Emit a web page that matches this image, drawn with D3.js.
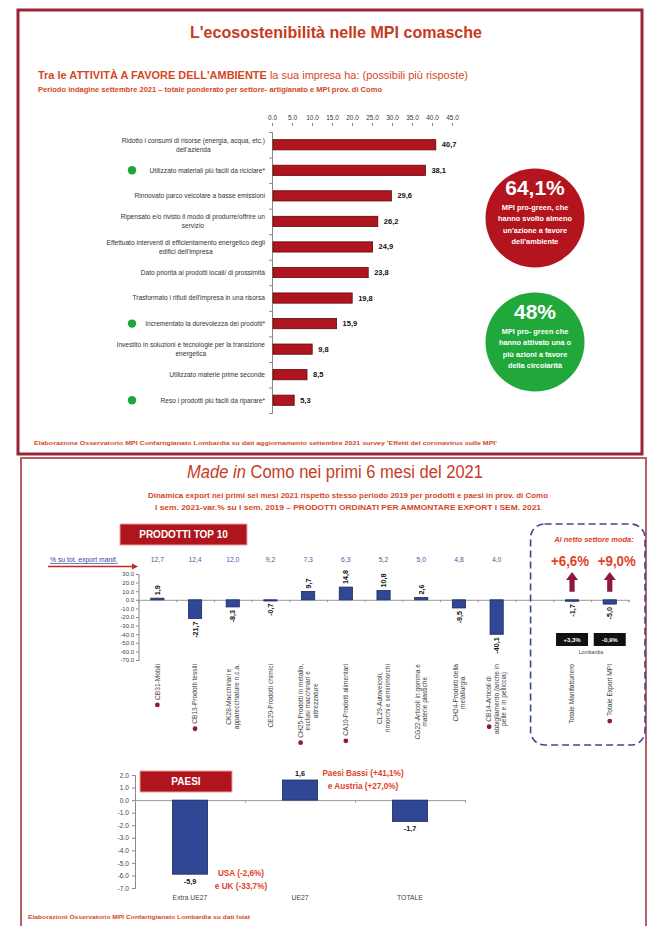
<!DOCTYPE html>
<html>
<head>
<meta charset="utf-8">
<script src="https://cdn.jsdelivr.net/npm/d3@7"></script>
<style>
  body { margin: 0; background: #fff; }
  svg { display: block; }
</style>
</head>
<body>
<div id="chart"></div>
<script>
const FONT = "'Liberation Sans Narrow','Arial Narrow','Liberation Sans',Arial,sans-serif";

// ---- pannello 1: attività a favore dell'ambiente
const ecoLabels = [
  ["Ridotto i consumi di risorse (energia, acqua, etc.)", "dell'azienda"],
  ["Utilizzato materiali più facili da riciclare*"],
  ["Rinnovato parco veicolare a basse emissioni"],
  ["Ripensato e/o rivisto il modo di produrre/offrire un", "servizio"],
  ["Effettuato interventi di efficientamento energetico degli", "edifici dell'impresa"],
  ["Dato priorità ai prodotti locali/ di prossimità"],
  ["Trasformato i rifiuti dell'impresa in una risorsa"],
  ["Incrementato la durevolezza dei prodotti*"],
  ["Investito in soluzioni e tecnologie per la transizione", "energetica"],
  ["Utilizzato materie prime seconde"],
  ["Reso i prodotti più facili da riparare*"]
];
const ecoValues = [40.7, 38.1, 29.6, 26.2, 24.9, 23.8, 19.8, 15.9, 9.8, 8.5, 5.3];
const ecoCircular = [false, true, false, false, false, false, false, true, false, false, true];
const ecoTicks = [0, 5, 10, 15, 20, 25, 30, 35, 40, 45];

// ---- pannello 2: export prodotti top 10
const prodLabels = [
  ["CB31-Mobili"],
  ["CB13-Prodotti tessili"],
  ["CK28-Macchinari e", "apparecchiature n.c.a."],
  ["CE20-Prodotti chimici"],
  ["CH25-Prodotti in metallo,", "esclusi macchinari e", "attrezzature"],
  ["CA10-Prodotti alimentari"],
  ["CL29-Autoveicoli,", "rimorchi e semirimorchi"],
  ["CG22-Articoli in gomma e", "materie plastiche"],
  ["CH24-Prodotti della", "metallurgia"],
  ["CB14-Articoli di", "abbigliamento (anche in", "pelle e in pelliccia)"]
];
const prodValues = [1.9, -21.7, -8.3, -0.7, 9.7, 14.8, 10.8, 2.6, -9.5, -40.1];
const prodShare = ["12,7", "12,4", "12,0", "9,2", "7,3", "6,3", "5,2", "5,0", "4,8", "4,0"];
const prodDot = [true, true, false, false, true, true, false, false, false, true];
const prodTicks = [30, 20, 10, 0, -10, -20, -30, -40, -50, -60, -70];

const totLabels = [["Totale Manifatturiero"], ["Totale Export MPI"]];
const totValues = [-1.7, -5.0];
const totDot = [false, true];
const totNoModa = ["+6,6%", "+9,0%"];
const totLombardia = ["+3,3%", "-0,9%"];

// ---- pannello 2: paesi
const paesiLabels = ["Extra UE27", "UE27", "TOTALE"];
const paesiValues = [-5.9, 1.6, -1.7];
const paesiTicks = [2, 1, 0, -1, -2, -3, -4, -5, -6, -7];

// valori con virgola, assi con punto, segno meno semplice
const it = d3.formatLocale({decimal: ",", thousands: ".", grouping: [3], currency: ["€", ""], minus: "-"});
const en = d3.formatLocale({decimal: ".", thousands: ",", grouping: [3], currency: ["$", ""], minus: "-"});
const fmt = it.format(".1f");
const fmtAxis = en.format(".1f");

const W = 660, H = 926;
const svg = d3.select("#chart").append("svg")
    .attr("width", W).attr("height", H)
    .attr("viewBox", [0, 0, W, H])
    .style("font-family", FONT);

const RED = "#b0151d", ORANGE = "#d4481f", BLUE = "#2f4795", MAROON = "#8c1a3f";

// cornici
svg.append("rect").attr("x", 18).attr("y", 10).attr("width", 624).attr("height", 444)
    .attr("fill", "none").attr("stroke", "#962536").attr("stroke-width", 3);
svg.append("rect").attr("x", 21).attr("y", 458).attr("width", 625).attr("height", 480)
    .attr("fill", "none").attr("stroke", "#b8606c").attr("stroke-width", 2);

// ================= PANNELLO 1
svg.append("text").attr("x", 336).attr("y", 38).attr("text-anchor", "middle")
    .attr("font-size", 17).attr("font-weight", "bold").attr("fill", "#c83a1e")
    .attr("textLength", 292).attr("lengthAdjust", "spacingAndGlyphs")
    .text("L'ecosostenibilità nelle MPI comasche");

const sub1 = svg.append("text").attr("x", 38).attr("y", 79)
    .attr("font-size", 10).attr("fill", ORANGE).attr("font-weight", "bold")
    .attr("textLength", 430).attr("lengthAdjust", "spacingAndGlyphs");
sub1.append("tspan").text("Tra le ATTIVITÀ A FAVORE DELL'AMBIENTE");
sub1.append("tspan").attr("font-weight", "normal").text(" la sua impresa ha: (possibili più risposte)");

svg.append("text").attr("x", 38).attr("y", 92)
    .attr("font-size", 7).attr("fill", ORANGE).attr("font-weight", "bold")
    .attr("textLength", 344).attr("lengthAdjust", "spacingAndGlyphs")
    .text("Periodo indagine settembre 2021 – totale ponderato per settore- artigianato e MPI prov. di Como");

const x1 = d3.scaleLinear().domain([0, 45]).range([272, 452]);
const y1 = d3.scaleBand().domain(d3.range(ecoValues.length)).range([132, 413])
    .paddingInner(0.6).paddingOuter(0.3);
const y1Idx = d3.scaleLinear().domain([0, ecoValues.length]).range([132, 413]);

svg.append("g").attr("transform", "translate(0,126)")
    .call(d3.axisTop(x1).tickValues(ecoTicks).tickFormat(fmtAxis).tickSize(3))
    .call(g => g.select(".domain").remove())
    .call(g => g.selectAll("line").attr("stroke", "#888"))
    .call(g => g.selectAll("text").attr("font-size", 6.5).attr("fill", "#333").attr("font-family", FONT));

svg.append("g").attr("transform", `translate(${x1(0)},0)`)
    .call(d3.axisLeft(y1Idx).ticks(ecoValues.length).tickFormat("").tickSize(3))
    .call(g => g.selectAll("line, path").attr("stroke", "#888"));

svg.append("g").selectAll("rect").data(ecoValues).join("rect")
    .attr("x", x1(0) + 1)
    .attr("y", (d, i) => y1(i))
    .attr("width", d => x1(d) - x1(0))
    .attr("height", y1.bandwidth())
    .attr("fill", RED).attr("stroke", "#5c0b10").attr("stroke-width", 0.8);

svg.append("g").selectAll("text").data(ecoValues).join("text")
    .attr("x", d => x1(d) + 7)
    .attr("y", (d, i) => y1(i) + y1.bandwidth() / 2 + 2.5)
    .attr("font-size", 7.5).attr("font-weight", "bold").attr("fill", "#111")
    .text(d => fmt(d));

const lab1 = svg.append("g").selectAll("text").data(ecoLabels).join("text")
    .attr("text-anchor", "end").attr("font-size", 6.6).attr("fill", "#333")
    .attr("y", (d, i) => y1(i) + y1.bandwidth() / 2 + 2.3 - (d.length - 1) * 4.5);
lab1.selectAll("tspan").data(d => d).join("tspan")
    .attr("x", 265).attr("dy", (d, j) => j ? 9 : 0)
    .attr("text-anchor", (d, j) => j ? "middle" : "end")
    .text(d => d);
// le seconde righe sono centrate sotto la prima
lab1.each(function(d) {
  if (d.length < 2) return;
  const first = d3.select(this).select("tspan").node().getComputedTextLength();
  d3.select(this).selectAll("tspan").filter((t, j) => j > 0).attr("x", 265 - first / 2);
});

svg.append("g").selectAll("circle").data(ecoCircular.map((c, i) => c ? i : -1).filter(i => i >= 0)).join("circle")
    .attr("cx", 132).attr("cy", i => y1(i) + y1.bandwidth() / 2)
    .attr("r", 4.2).attr("fill", "#1fa43b");

// cerchi riassuntivi
const bubbles = [
  {cy: 218, fill: "#b3141d", big: "64,1%", lines: ["MPI pro-green, che", "hanno svolto almeno", "un'azione a favore", "dell'ambiente"]},
  {cy: 342, fill: "#21a83b", big: "48%", lines: ["MPI pro- green che", "hanno attivato una o", "più azioni a favore", "della circolarità"]}
];
const bub = svg.append("g").selectAll("g").data(bubbles).join("g")
    .attr("transform", d => `translate(535,${d.cy})`);
bub.append("circle").attr("r", 49.5).attr("fill", d => d.fill);
bub.append("text").attr("y", -23).attr("text-anchor", "middle")
    .attr("font-size", 21).attr("font-weight", "bold").attr("fill", "#fff")
    .text(d => d.big);
bub.append("g").selectAll("text").data(d => d.lines).join("text")
    .attr("y", (d, j) => -8 + j * 11.3).attr("text-anchor", "middle")
    .attr("font-size", 7.4).attr("font-weight", "bold").attr("fill", "#fff")
    .text(d => d);

svg.append("text").attr("x", 34).attr("y", 445)
    .attr("font-size", 6).attr("font-weight", "bold").attr("fill", ORANGE)
    .attr("textLength", 463).attr("lengthAdjust", "spacingAndGlyphs")
    .text("Elaborazione Osservatorio MPI Confartigianato Lombardia su dati aggiornamento settembre 2021 survey 'Effetti del coronavirus sulle MPI'");

// ================= PANNELLO 2
const t2 = svg.append("text").attr("x", 335).attr("y", 478).attr("text-anchor", "middle")
    .attr("font-size", 18).attr("fill", "#c83a1e")
    .attr("textLength", 296).attr("lengthAdjust", "spacingAndGlyphs");
t2.append("tspan").attr("font-style", "italic").text("Made in");
t2.append("tspan").text(" Como nei primi 6 mesi del 2021");

svg.append("text").attr("x", 348).attr("y", 498).attr("text-anchor", "middle")
    .attr("font-size", 7.5).attr("font-weight", "bold").attr("fill", ORANGE)
    .attr("textLength", 400).attr("lengthAdjust", "spacingAndGlyphs")
    .text("Dinamica export nei primi sei mesi 2021 rispetto stesso periodo 2019 per prodotti e paesi in prov. di Como");
svg.append("text").attr("x", 348).attr("y", 510).attr("text-anchor", "middle")
    .attr("font-size", 7.5).attr("font-weight", "bold").attr("fill", ORANGE)
    .attr("textLength", 386).attr("lengthAdjust", "spacingAndGlyphs")
    .text("I sem. 2021-var.% su I sem. 2019 – PRODOTTI ORDINATI PER AMMONTARE EXPORT I SEM. 2021");

// etichetta PRODOTTI TOP 10
svg.append("rect").attr("x", 120).attr("y", 524).attr("width", 127).attr("height", 21)
    .attr("fill", RED).attr("stroke", "#e9a0a0").attr("stroke-width", 1);
svg.append("text").attr("x", 183.5).attr("y", 538).attr("text-anchor", "middle")
    .attr("font-size", 10).attr("font-weight", "bold").attr("fill", "#fff")
    .text("PRODOTTI TOP 10");

// tutte le categorie del grafico prodotti: 10 prodotti, uno spazio vuoto, 2 totali
const allValues = prodValues.concat([null], totValues);
const nCat = allValues.length;
const x2 = d3.scaleBand().domain(d3.range(nCat)).range([138.5, 628.6])
    .paddingInner(0.65).paddingOuter(0.325);
const x2Idx = d3.scaleLinear().domain([0, nCat]).range([138.5, 628.6]);
const y2 = d3.scaleLinear().domain([-70, 30]).range([660, 574]);
const cx2 = i => x2(i) + x2.bandwidth() / 2;

svg.append("g").attr("transform", "translate(138.5,0)")
    .call(d3.axisLeft(y2).tickValues(prodTicks).tickFormat(fmtAxis).tickSize(2.5).tickPadding(2))
    .call(g => g.selectAll("line, path").attr("stroke", "#888"))
    .call(g => g.selectAll("text").attr("font-size", 6).attr("fill", "#444").attr("font-family", FONT));

svg.append("g").attr("transform", `translate(0,${y2(0)})`)
    .call(d3.axisBottom(x2Idx).ticks(nCat).tickFormat("").tickSize(2.5))
    .call(g => g.selectAll("line, path").attr("stroke", "#999"));

const bars2 = allValues.map((v, i) => ({v, i})).filter(d => d.v != null);
svg.append("g").selectAll("rect").data(bars2).join("rect")
    .attr("x", d => x2(d.i))
    .attr("y", d => y2(Math.max(0, d.v)))
    .attr("width", x2.bandwidth())
    .attr("height", d => Math.max(1.2, Math.abs(y2(d.v) - y2(0))))
    .attr("fill", BLUE).attr("stroke", "#1c2a5e").attr("stroke-width", 0.8);

svg.append("g").selectAll("text").data(bars2).join("text")
    .attr("transform", d => `translate(${cx2(d.i) + 2.6},${d.v >= 0 ? y2(d.v) - 3 : y2(d.v) + 3}) rotate(-90)`)
    .attr("text-anchor", d => d.v >= 0 ? "start" : "end")
    .attr("font-size", 7.2).attr("font-weight", "bold").attr("fill", "#111")
    .text(d => fmt(d.v));

// % su tot export
svg.append("text").attr("x", 50).attr("y", 562)
    .attr("font-size", 6.8).attr("fill", "#34449a").attr("text-decoration", "underline")
    .text("% su tot. export manif.");
svg.append("path").attr("d", "M48,566.5H133").attr("stroke", "#c0282d").attr("stroke-width", 1.5);
svg.append("path").attr("d", "M138,566.5l-6,-3v6z").attr("fill", "#c0282d");
svg.append("g").selectAll("text").data(prodShare).join("text")
    .attr("x", (d, i) => cx2(i)).attr("y", 562).attr("text-anchor", "middle")
    .attr("font-size", 6.8).attr("fill", "#4a5aa0")
    .text(d => d);

// etichette di categoria ruotate
const catLabels = prodLabels.concat([null], totLabels);
const catDot = prodDot.concat([false], totDot);
const catG = svg.append("g");
catLabels.forEach((lines, i) => {
  if (!lines) return;
  const g = catG.append("g");
  const n = lines.length;
  const texts = lines.map(s => g.append("text")
      .attr("font-size", 6.6).attr("fill", "#444").attr("text-anchor", "middle").text(s));
  const lens = texts.map(t => t.node().getComputedTextLength());
  const maxLen = d3.max(lens);
  const mid = 664 + maxLen / 2;
  texts.forEach((t, j) => {
    const xx = cx2(i) + 2.3 + (j - (n - 1) / 2) * 7.5;
    t.attr("transform", `translate(${xx},${mid}) rotate(-90)`);
  });
  if (catDot[i]) {
    g.append("circle").attr("cx", cx2(i) + (0 - (n - 1) / 2) * 7.5)
        .attr("cy", mid + lens[0] / 2 + 5).attr("r", 2.4).attr("fill", MAROON);
  }
});

// riquadro totali
const boxX = x2Idx(nCat - 2.6);
svg.append("rect").attr("x", boxX).attr("y", 524).attr("width", 645 - boxX).attr("height", 221)
    .attr("rx", 14).attr("fill", "none").attr("stroke", "#3b4a8c")
    .attr("stroke-width", 1.6).attr("stroke-dasharray", "7,4");
svg.append("text").attr("x", 594).attr("y", 542).attr("text-anchor", "middle")
    .attr("font-size", 7.5).attr("font-style", "italic").attr("font-weight", "bold").attr("fill", "#e0412a")
    .text("Al netto settore moda:");
totNoModa.forEach((s, k) => {
  const i = prodValues.length + 1 + k;
  const c = cx2(i);
  svg.append("text").attr("x", c + (k ? 7 : -2)).attr("y", 566).attr("text-anchor", "middle")
      .attr("font-size", 14).attr("font-weight", "bold").attr("fill", "#e0412a")
      .attr("textLength", 38).attr("lengthAdjust", "spacingAndGlyphs")
      .text(s);
  const base = y2(0) - 8, tip = 572;
  svg.append("path")
      .attr("d", `M${c - 2.6},${base}V${tip + 8}H${c - 6}L${c},${tip}L${c + 6},${tip + 8}H${c + 2.6}V${base}Z`)
      .attr("fill", MAROON);
  svg.append("rect").attr("x", c - 16).attr("y", 633).attr("width", 32).attr("height", 13)
      .attr("fill", "#111");
  svg.append("text").attr("x", c).attr("y", 642).attr("text-anchor", "middle")
      .attr("font-size", 6).attr("font-weight", "bold").attr("fill", "#fff")
      .text(totLombardia[k]);
});
svg.append("text").attr("x", (cx2(nCat - 2) + cx2(nCat - 1)) / 2).attr("y", 654).attr("text-anchor", "middle")
    .attr("font-size", 5.2).attr("fill", "#444").text("Lombardia");

// ---- paesi
const x3 = d3.scaleBand().domain(d3.range(paesiValues.length)).range([135, 465])
    .paddingInner(0.68).paddingOuter(0.34);
const x3Idx = d3.scaleLinear().domain([0, paesiValues.length]).range([135, 465]);
const y3 = d3.scaleLinear().domain([-7, 2]).range([888, 775]);
const cx3 = i => x3(i) + x3.bandwidth() / 2;

svg.append("g").attr("transform", "translate(135,0)")
    .call(d3.axisLeft(y3).tickValues(paesiTicks).tickFormat(fmtAxis).tickSize(3).tickPadding(3))
    .call(g => g.selectAll("line, path").attr("stroke", "#888"))
    .call(g => g.selectAll("text").attr("font-size", 6.6).attr("fill", "#444").attr("font-family", FONT));

svg.append("g").attr("transform", `translate(0,${y3(0)})`)
    .call(d3.axisBottom(x3Idx).ticks(paesiValues.length).tickFormat("").tickSize(2.5))
    .call(g => g.selectAll("line, path").attr("stroke", "#999"));

svg.append("g").selectAll("rect").data(paesiValues).join("rect")
    .attr("x", (d, i) => x3(i))
    .attr("y", d => y3(Math.max(0, d)))
    .attr("width", x3.bandwidth())
    .attr("height", d => Math.abs(y3(d) - y3(0)))
    .attr("fill", BLUE).attr("stroke", "#1c2a5e").attr("stroke-width", 0.8);

svg.append("g").selectAll("text").data(paesiValues).join("text")
    .attr("x", (d, i) => cx3(i))
    .attr("y", d => d >= 0 ? y3(d) - 4 : y3(d) + 10)
    .attr("text-anchor", "middle")
    .attr("font-size", 7.2).attr("font-weight", "bold").attr("fill", "#111")
    .text(d => fmt(d));

svg.append("g").selectAll("text").data(paesiLabels).join("text")
    .attr("x", (d, i) => cx3(i)).attr("y", 900).attr("text-anchor", "middle")
    .attr("font-size", 6.8).attr("fill", "#444")
    .text(d => d);

svg.append("rect").attr("x", 140).attr("y", 771).attr("width", 92).attr("height", 21)
    .attr("fill", RED).attr("stroke", "#e9a0a0").attr("stroke-width", 1);
svg.append("text").attr("x", 186).attr("y", 785).attr("text-anchor", "middle")
    .attr("font-size", 10).attr("font-weight", "bold").attr("fill", "#fff")
    .text("PAESI");

const noteG = svg.append("g").attr("font-size", 8.2).attr("font-weight", "bold").attr("fill", "#e0412a")
    .attr("text-anchor", "middle");
noteG.append("text").attr("x", 363).attr("y", 776).text("Paesi Bassi (+41,1%)");
noteG.append("text").attr("x", 363).attr("y", 789).text("e Austria (+27,0%)");
noteG.append("text").attr("x", 241).attr("y", 876).text("USA (-2,6%)");
noteG.append("text").attr("x", 241).attr("y", 889).text("e UK (-33,7%)");

svg.append("text").attr("x", 28).attr("y", 919)
    .attr("font-size", 6).attr("font-weight", "bold").attr("fill", ORANGE)
    .attr("textLength", 222).attr("lengthAdjust", "spacingAndGlyphs")
    .text("Elaborazioni Osservatorio MPI Confartigianato Lombardia su dati Istat");
</script>
</body>
</html>
